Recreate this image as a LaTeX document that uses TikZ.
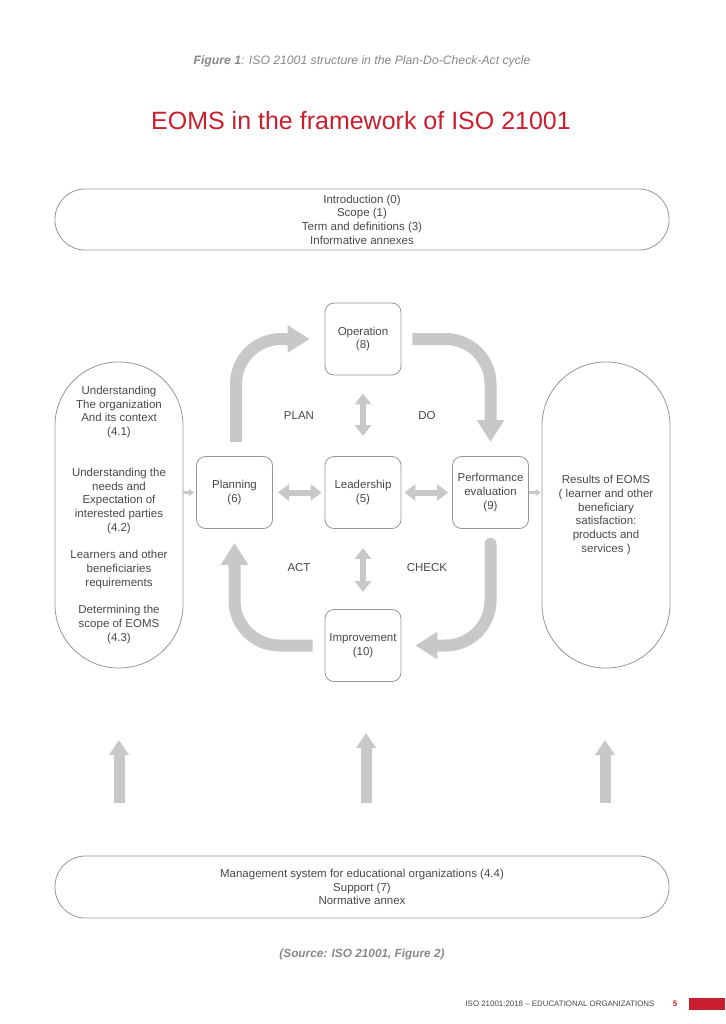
\documentclass[tikz,border=0pt]{standalone}
\usepackage{fontspec}
\setmainfont{Liberation Sans}
\usetikzlibrary{arrows.meta}
\definecolor{isored}{RGB}{200,30,45}
\definecolor{txtgray}{RGB}{72,72,72}
\definecolor{capgray}{RGB}{135,135,135}
\definecolor{arrgray}{RGB}{200,200,200}
\definecolor{boxgray}{RGB}{150,150,150}

\begin{document}
\begin{tikzpicture}[x=1pt,y=-1pt,
  txt/.style={text=txtgray,font=\fontsize{11.5}{13.7}\selectfont,align=center,inner sep=0pt},
  pill/.style={txt,draw=boxgray,line width=0.8pt},
  stepbox/.style={txt,draw=boxgray,line width=0.8pt,rounded corners=9pt,minimum width=76pt,minimum height=72pt},
  bigarrow/.style={draw=arrgray,line width=12pt,rounded corners=45pt,-{Triangle[width=26pt,length=22pt]}},
  dblarrow/.style={draw=arrgray,line width=6pt,{Triangle[width=16pt,length=11pt]}-{Triangle[width=16pt,length=11pt]}},
  smallarrow/.style={draw=arrgray,line width=2.5pt,-{Triangle[width=7pt,length=5pt]}},
  uparrow/.style={draw=arrgray,line width=11pt,-{Triangle[width=19pt,length=15pt]}}
]
\useasboundingbox (0,0) rectangle (725,1024);

\node[text=capgray,font=\fontsize{12.2}{14}\selectfont\itshape] (figcap) at (362,61)
  {\textbf{Figure 1}: ISO 21001 structure in the Plan-Do-Check-Act cycle};
\node[text=isored,font=\fontsize{25}{30}\selectfont] (title) at (361,121)
  {EOMS in the framework of ISO 21001};

\node[pill,rounded corners=30pt,minimum width=614pt,minimum height=61pt] (intro) at (362,219.5)
  {Introduction (0)\\Scope (1)\\Term and definitions (3)\\Informative annexes};

\node[pill,rounded corners=63.5pt,minimum width=128pt,minimum height=306pt] (context) at (119,515)
  {Understanding\\The organization\\And its context\\(4.1)\\[27pt]
   Understanding the\\needs and\\Expectation of\\interested parties\\(4.2)\\[14pt]
   Learners and other\\beneficiaries\\requirements\\[14pt]
   Determining the\\scope of EOMS\\(4.3)};
\node[pill,rounded corners=63.5pt,minimum width=128pt,minimum height=306pt] (results) at (606,515)
  {Results of EOMS\\( learner and other\\beneficiary\\satisfaction:\\products and\\services )};

\node[stepbox] (oper) at (363,339) {Operation\\(8)};
\node[stepbox] (plan) at (234.5,492.5) {Planning\\(6)};
\node[stepbox] (lead) at (363,492.5) {Leadership\\(5)};
\node[stepbox] (perf) at (490.5,492.5) {Performance\\evaluation\\(9)};
\node[stepbox] (impr) at (363,645.5) {Improvement\\(10)};

\node[txt] (plantxt) at (299,416) {PLAN};
\node[txt] (dotxt) at (427,416) {DO};
\node[txt] (acttxt) at (299,568) {ACT};
\node[txt] (checktxt) at (427,568) {CHECK};

\draw[bigarrow] ([xshift=1.5pt,yshift=14pt]plan.north) |- ([xshift=-15pt]oper.west);
\draw[bigarrow] ([xshift=11pt]oper.east) -| ([yshift=14pt]perf.north);
\draw[bigarrow,line cap=round] ([yshift=-15pt]perf.south) |- ([xshift=14pt]impr.east);
\draw[bigarrow] ([xshift=-12pt]impr.west) -| ([yshift=-14pt]plan.south);

\draw[dblarrow] ([yshift=-18pt]oper.south) -- ([yshift=20pt]lead.north);
\draw[dblarrow] ([yshift=-19pt]lead.south) -- ([yshift=17pt]impr.north);
\draw[dblarrow] ([xshift=5pt]plan.east) -- ([xshift=-3pt]lead.west);
\draw[dblarrow] ([xshift=3pt]lead.east) -- ([xshift=-4pt]perf.west);

\draw[smallarrow] (context.east |- plan.west) -- ([xshift=-2pt]plan.west);
\draw[smallarrow] (perf.east) -- ([xshift=-1pt]results.west |- perf.east);

\node[pill,rounded corners=30.5pt,minimum width=614pt,minimum height=62pt] (support) at (362,887)
  {Management system for educational organizations (4.4)\\Support (7)\\Normative annex};

\coordinate (u1) at (119,803);
\coordinate (t1) at (119,740);
\coordinate (u2) at (366,803);
\coordinate (t2) at (366,733);
\coordinate (u3) at (605,803);
\coordinate (t3) at (605,740);
\draw[uparrow] (u1) -- (t1);
\draw[uparrow] (u2) -- (t2);
\draw[uparrow] (u3) -- (t3);

\node[text=capgray,font=\fontsize{11.8}{14}\selectfont\bfseries\itshape] (source) at (362,954)
  {(Source: ISO 21001, Figure 2)};
\node[text=txtgray,font=\fontsize{7.9}{9}\selectfont,anchor=east] (foot) at (658,1004)
  {ISO 21001:2018 -- EDUCATIONAL ORGANIZATIONS};
\node[text=isored,font=\fontsize{8}{9}\selectfont\bfseries] (pagenum) at (675,1004) {5};
\fill[isored] (689,998) rectangle (725,1010);
\end{tikzpicture}
\end{document}
